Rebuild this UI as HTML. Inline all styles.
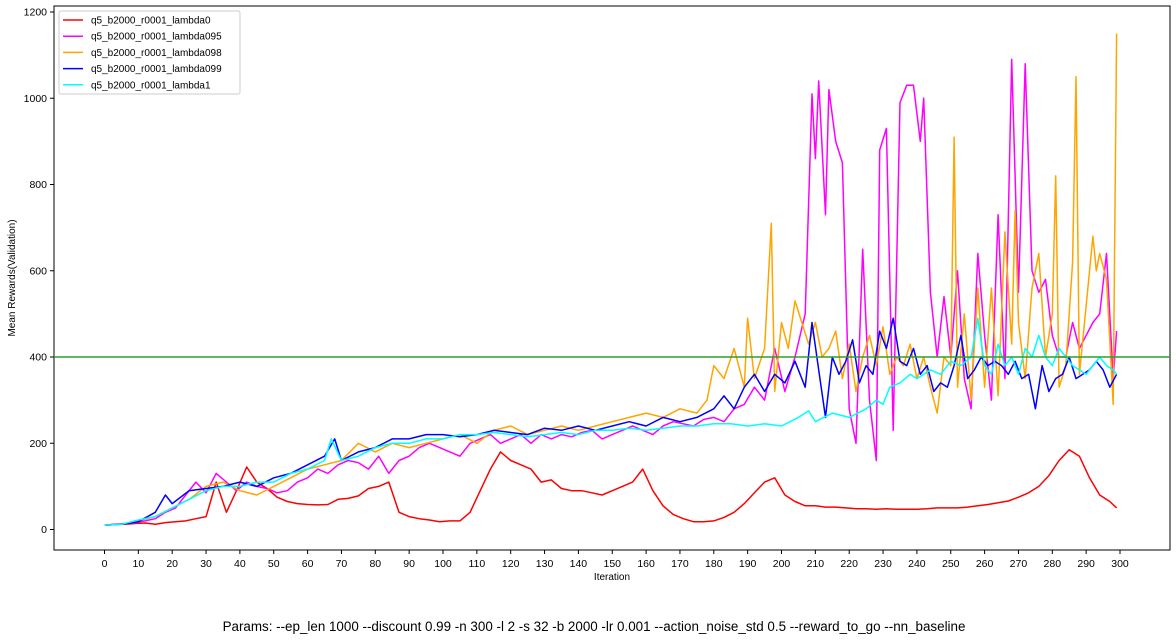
<!DOCTYPE html>
<html><head><meta charset="utf-8"><style>
html,body{margin:0;padding:0;background:#fff;}
svg{display:block;font-family:"Liberation Sans","DejaVu Sans",sans-serif;}
</style></head><body>
<svg id="chart" width="1176" height="640" viewBox="0 0 1176 640"></svg>
<script>
const xTicks=[0,10,20,30,40,50,60,70,80,90,100,110,120,130,140,150,160,170,180,190,200,210,220,230,240,250,260,270,280,290,300];
const yTicks=[0,200,400,600,800,1000,1200];
const seriesNames=["q5_b2000_r0001_lambda0","q5_b2000_r0001_lambda095","q5_b2000_r0001_lambda098","q5_b2000_r0001_lambda099","q5_b2000_r0001_lambda1"];
const seriesColors=["#ff0000","#ff00ff","#ffa500","#0000ff","#00ffff"];
const targetValue=400;

const x0=[0,3,6,9,12,15,18,21,24,27,30,33,36,39,42,45,48,51,54,57,60,63,66,69,72,75,78,81,84,87,90,93,96,99,102,105,108,111,114,117,120,123,126,129,132,135,138,141,144,147,150,153,156,159,162,165,168,171,174,177,180,183,186,189,192,195,198,201,204,207,210,213,216,219,222,225,228,231,234,237,240,243,246,249,252,255,258,261,264,267,270,273,276,279,282,285,288,291,294,297,299];
const y0=[10,12,12,14,15,12,16,18,20,25,30,110,40,90,145,110,95,75,65,60,58,57,58,70,72,78,95,100,110,40,30,25,22,18,20,20,40,90,140,180,160,150,140,110,115,95,90,90,85,80,90,100,110,140,90,55,35,25,18,18,20,28,40,60,85,110,120,80,65,55,55,52,52,50,48,48,47,48,47,47,47,48,50,50,50,52,55,58,62,66,75,85,100,125,160,185,170,120,80,65,50];

const x1=[0,3,6,9,12,15,18,21,24,27,30,33,36,39,42,45,48,51,54,57,60,63,66,69,72,75,78,81,84,87,90,93,96,99,102,105,108,111,114,117,120,123,126,129,132,135,138,141,144,147,150,153,156,159,162,165,168,171,174,177,180,183,186,189,192,195,198,201,204,207,209,210,211,213,214,216,218,220,222,224,226,228,229,231,233,235,237,239,241,242,244,246,248,250,252,254,256,258,260,262,264,266,268,270,272,274,276,278,280,282,284,286,288,290,292,294,296,298,299];
const y1=[10,12,14,16,20,25,40,50,80,110,85,130,110,90,110,100,95,85,90,110,120,140,130,150,160,155,140,170,130,160,170,190,200,190,180,170,200,210,220,200,210,220,200,220,210,220,215,225,230,210,220,230,240,230,220,240,250,245,240,255,260,250,280,290,330,300,420,320,400,500,1010,860,1040,730,1020,900,850,280,200,650,300,160,880,930,230,990,1030,1030,900,1000,550,400,540,400,600,350,280,640,450,300,730,350,1090,550,1080,600,550,580,450,400,400,480,420,450,480,500,640,350,460];

const x2=[0,5,10,15,20,25,30,35,40,45,50,55,60,65,70,75,80,85,90,95,100,105,110,115,120,125,130,135,140,145,150,155,160,165,170,175,178,180,183,186,189,190,192,195,197,198,200,202,204,206,208,210,212,214,216,218,220,222,224,226,228,230,232,234,236,238,240,242,244,246,248,250,251,252,254,256,258,260,262,264,266,268,269,270,272,274,276,278,280,281,282,284,286,287,288,290,292,293,294,296,298,299];
const y2=[10,12,20,30,50,70,100,110,90,80,100,120,140,150,160,200,180,200,190,200,210,220,200,230,240,220,230,240,230,240,250,260,270,260,280,270,300,380,350,420,330,490,350,420,710,320,480,420,530,480,430,480,400,420,460,350,430,320,400,450,380,470,360,400,380,430,350,400,330,270,400,380,910,330,500,300,560,330,560,310,690,430,740,480,350,560,640,400,500,820,330,380,620,1050,360,520,680,600,640,580,290,1150];

const x3=[0,5,10,15,18,20,25,30,35,40,45,50,55,60,65,68,70,75,80,85,90,95,100,105,110,115,120,125,130,135,140,145,150,155,160,165,170,175,180,183,186,189,192,195,198,201,204,207,209,211,213,215,217,219,221,223,225,227,229,231,233,235,237,239,241,243,245,247,249,251,253,255,257,259,261,263,265,267,269,271,273,275,277,279,281,283,285,287,289,291,293,295,297,299];
const y3=[10,12,18,40,80,60,90,95,100,110,100,120,130,150,170,210,160,180,190,210,210,220,220,215,220,230,225,220,235,230,240,230,240,250,240,260,250,260,280,310,280,330,360,320,360,340,390,330,480,370,260,400,360,390,440,340,380,360,460,420,490,390,380,420,360,380,320,340,330,380,450,350,370,400,380,390,380,360,390,350,360,280,380,320,350,360,400,350,360,370,390,370,330,360];

const x4=[0,5,10,15,20,25,30,35,40,45,50,55,60,65,67,70,75,80,85,90,95,100,105,110,115,120,125,130,135,140,145,150,155,160,165,170,175,180,185,190,195,200,205,208,210,215,220,225,228,230,232,235,238,240,244,247,250,253,256,258,260,262,264,266,268,270,272,274,276,278,280,282,284,286,288,290,292,294,296,298,299];
const y4=[10,12,22,30,50,70,90,100,100,110,110,130,140,160,210,160,170,190,200,200,210,210,220,220,225,220,215,220,225,220,230,230,235,230,235,240,240,245,245,240,245,240,260,275,250,270,260,280,300,290,330,340,360,350,370,360,390,380,400,490,380,360,430,380,400,360,420,400,450,400,380,420,400,380,370,360,380,400,380,370,360];

const xsAll=[x0,x1,x2,x3,x4];
const ysAll=[y0,y1,y2,y3,y4];

const NS="http://www.w3.org/2000/svg";
const svg=document.getElementById('chart');
const L=54,R=1170,T=6,B=550;
function xs(v){return 104.5+v*(1120-104.5)/300;}
function ys(v){return 529.5-v*(529.5-12)/1200;}
function mk(tag,attrs,parent){const e=document.createElementNS(NS,tag);for(const k in attrs)e.setAttribute(k,attrs[k]);(parent||svg).appendChild(e);return e;}

const frame=mk('rect',{x:L,y:T,width:R-L,height:B-T,fill:'none',stroke:'#000','stroke-width':1});



xTicks.forEach(t=>{
  const g=mk('g',{});
  
  
  mk('line',{x1:xs(t),x2:xs(t),y1:B,y2:B+4,stroke:'#000'},g);
  const tx=mk('text',{x:xs(t),y:B+17,'font-size':10.5,'text-anchor':'middle',fill:'#000'},g);
  tx.textContent=t;
});
yTicks.forEach(t=>{
  const g=mk('g',{});
  
  
  mk('line',{x1:L-4,x2:L,y1:ys(t),y2:ys(t),stroke:'#000'},g);
  const tx=mk('text',{x:L-7,y:ys(t)+3.5,'font-size':10.5,'text-anchor':'end',fill:'#000'},g);
  tx.textContent=t;
});

for(let s=0;s<5;s++){
  const d=xsAll[s].map((v,i)=>(i?'L':'M')+xs(v).toFixed(1)+','+ys(ysAll[s][i]).toFixed(1)).join(' ');
  const p=mk('path',{d:d,fill:'none',stroke:seriesColors[s],'stroke-width':1.5,'stroke-linejoin':'round'});
  
  
}
const tl=mk('line',{x1:L,x2:R,y1:ys(targetValue),y2:ys(targetValue),stroke:'#2ca02c','stroke-width':1.5});



const lg=mk('g',{});


mk('rect',{x:59,y:11,width:181,height:83,rx:2,fill:'#fff','fill-opacity':0.8,stroke:'#ccc'},lg);
for(let s=0;s<5;s++){
  const e=mk('g',{},lg);
  
  
  const y=20+s*16.2;
  mk('line',{x1:63,x2:83,y1:y,y2:y,stroke:seriesColors[s],'stroke-width':1.5},e);
  const t=mk('text',{x:91,y:y+3.5,'font-size':10,fill:'#000'},e);
  t.textContent=seriesNames[s];
}

const xl=mk('text',{x:612,y:580,'font-size':10,'text-anchor':'middle',fill:'#000'});
xl.textContent='Iteration';


const yl=mk('text',{x:15,y:278,'font-size':10,'text-anchor':'middle',fill:'#000',transform:'rotate(-90 15 278)'});
yl.textContent='Mean Rewards(Validation)';


const pt=mk('text',{x:594,y:631,'font-size':13.4,'text-anchor':'middle',fill:'#000'});
pt.textContent='Params: --ep_len 1000 --discount 0.99 -n 300 -l 2 -s 32 -b 2000 -lr 0.001 --action_noise_std 0.5 --reward_to_go --nn_baseline';


</script>
</body></html>
